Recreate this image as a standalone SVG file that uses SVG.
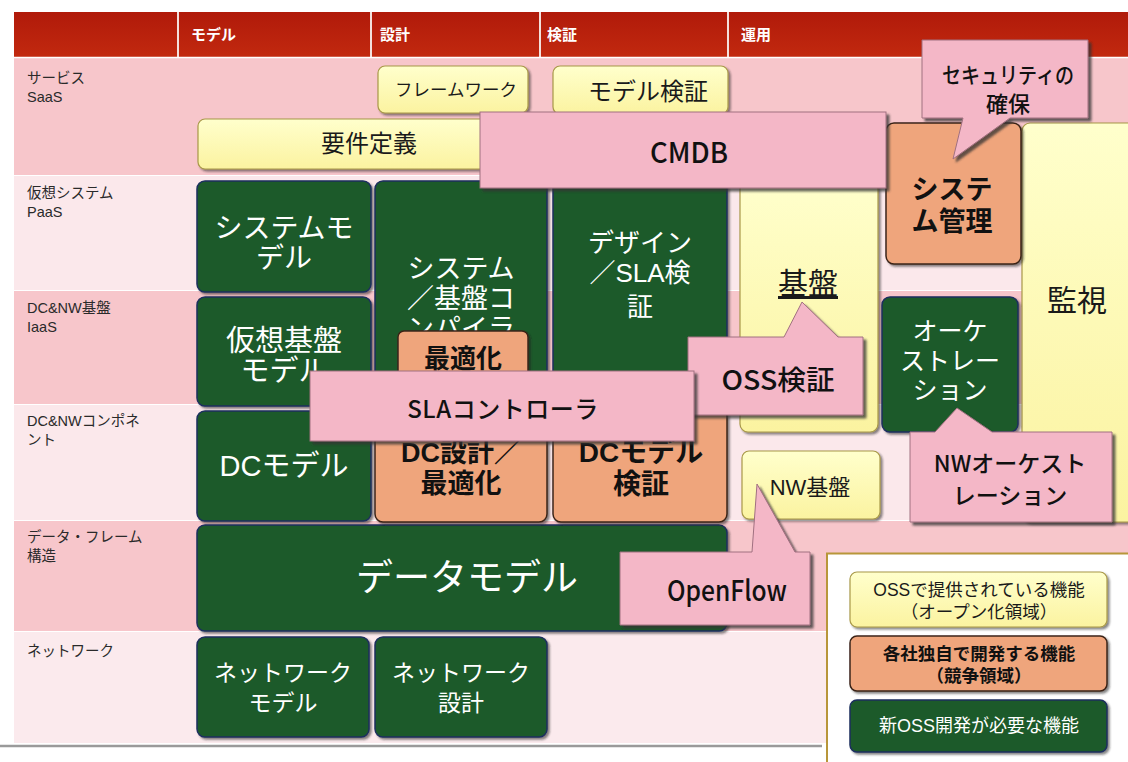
<svg xmlns="http://www.w3.org/2000/svg" width="1128" height="762" viewBox="0 0 1128 762">
<defs>
<linearGradient id="ghdr" x1="0" y1="0" x2="0" y2="1"><stop offset="0" stop-color="#b01a0a"/><stop offset="1" stop-color="#c2290f"/></linearGradient>
<linearGradient id="gy" x1="0" y1="0" x2="0" y2="1"><stop offset="0" stop-color="#ffffcc"/><stop offset="1" stop-color="#fbf3a0"/></linearGradient>
<filter id="sh" x="-10%" y="-10%" width="130%" height="130%"><feDropShadow dx="2" dy="2" stdDeviation="1" flood-color="#222" flood-opacity="0.55"/></filter>
<filter id="shc" x="-10%" y="-10%" width="130%" height="140%"><feDropShadow dx="3" dy="3" stdDeviation="0.8" flood-color="#333" flood-opacity="0.75"/></filter>
<style>
.lbl{font-family:"Liberation Sans","Noto Sans CJK JP",sans-serif;font-size:14.5px;fill:#2a2a2a}
.hdr{font-family:"Noto Sans CJK JP",sans-serif;font-size:15px;font-weight:bold;fill:#fff}
.y{fill:url(#gy);stroke:#a89848;stroke-width:1.2;filter:url(#sh)}
.g{fill:#1c5a2c;stroke:#1b2f5e;stroke-width:1.5;filter:url(#sh)}
.o{fill:#efa57c;stroke:#3b2417;stroke-width:1.5;filter:url(#sh)}
.c{fill:#f4b7c7;stroke:#a07080;stroke-width:1;filter:url(#shc)}
.tw{font-family:"Liberation Sans","Noto Sans CJK JP",sans-serif;fill:#fff;text-anchor:middle}
.tk{font-family:"Liberation Sans","Noto Sans CJK JP",sans-serif;fill:#1a1a1a;text-anchor:middle}
.tb{font-family:"Liberation Sans","Noto Sans CJK JP",sans-serif;fill:#111;text-anchor:middle;font-weight:bold}
.tc{font-family:"Noto Sans CJK JP",sans-serif;fill:#111;text-anchor:middle;font-weight:500}
</style>
</defs>

<!-- background rows -->
<g id="grid">
<rect x="0" y="0" width="1128" height="762" fill="#ffffff"/>
<rect x="14" y="57" width="1114" height="118" fill="#f7c6cb"/>
<rect x="14" y="176" width="1114" height="114" fill="#fbe8eb"/>
<rect x="14" y="291" width="1114" height="113" fill="#f7c6cb"/>
<rect x="14" y="405" width="1114" height="115" fill="#fbe8eb"/>
<rect x="14" y="521" width="1114" height="110" fill="#f7c6cb"/>
<rect x="14" y="632" width="1114" height="111" fill="#fbeaed"/>
<rect x="14" y="12" width="1114" height="45" fill="url(#ghdr)"/>
<g stroke="#f3e0dc" stroke-width="2">
<line x1="178" y1="12" x2="178" y2="57"/>
<line x1="371" y1="12" x2="371" y2="57"/>
<line x1="540" y1="12" x2="540" y2="57"/>
<line x1="728" y1="12" x2="728" y2="57"/>
</g>
<line x1="14" y1="57.5" x2="1128" y2="57.5" stroke="#fff" stroke-width="1.5"/>
<line x1="0" y1="746" x2="822" y2="746" stroke="#9a9a9a" stroke-width="2.5"/>
<rect x="827" y="553" width="301" height="209" fill="#ffffff"/>
<path d="M827,762 V553.5 H1128" fill="none" stroke="#b8963a" stroke-width="2"/>
<text class="hdr" x="191" y="40">モデル</text>
<text class="hdr" x="380" y="40">設計</text>
<text class="hdr" x="547" y="40">検証</text>
<text class="hdr" x="741" y="40">運用</text>
<text class="lbl" x="27" y="83">サービス</text>
<text class="lbl" x="27" y="102">SaaS</text>
<text class="lbl" x="27" y="198">仮想システム</text>
<text class="lbl" x="27" y="217">PaaS</text>
<text class="lbl" x="27" y="313">DC&amp;NW基盤</text>
<text class="lbl" x="27" y="332">IaaS</text>
<text class="lbl" x="27" y="426">DC&amp;NWコンポネ</text>
<text class="lbl" x="27" y="445">ント</text>
<text class="lbl" x="27" y="542">データ・フレーム</text>
<text class="lbl" x="27" y="561">構造</text>
<text class="lbl" x="27" y="656">ネットワーク</text>
</g>

<!-- yellow nodes -->
<g id="framework"><rect class="y" x="378" y="66" width="150" height="47" rx="7"/><text class="tk" x="456" y="96" font-size="17.5">フレームワーク</text></g>
<g id="model-verify"><rect class="y" x="553" y="66" width="175" height="48" rx="7"/><text class="tk" x="648" y="100" font-size="24">モデル検証</text></g>
<g id="requirements"><rect class="y" x="198" y="119" width="340" height="50" rx="7"/><text class="tk" x="369" y="152" font-size="24">要件定義</text></g>
<g id="kiban"><rect class="y" x="740" y="181" width="138" height="251" rx="8"/><text class="tk" x="808" y="294" font-size="30" text-decoration="underline">基盤</text></g>
<g id="kanshi"><rect class="y" x="1022" y="123" width="120" height="399" rx="8"/><text class="tk" x="1077" y="311" font-size="30">監視</text></g>
<g id="nw-kiban"><rect class="y" x="742" y="451" width="138" height="68" rx="7"/><text class="tk" x="810" y="495" font-size="22">NW基盤</text></g>

<!-- green nodes -->
<g id="system-model"><rect class="g" x="197" y="181" width="174" height="111" rx="8"/><text class="tw" x="284" y="238" font-size="28">システムモ</text><text class="tw" x="284" y="268" font-size="28">デル</text></g>
<g id="virtual-model"><rect class="g" x="197" y="297" width="174" height="109" rx="8"/><text class="tw" x="284" y="351" font-size="29">仮想基盤</text><text class="tw" x="284" y="381" font-size="29">モデル</text></g>
<g id="dc-model"><rect class="g" x="197" y="411" width="174" height="110" rx="8"/><text class="tw" x="284" y="476" font-size="29">DCモデル</text></g>
<g id="compiler"><rect class="g" x="375" y="181" width="172" height="222" rx="8"/><text class="tw" x="461" y="278" font-size="27">システム</text><text class="tw" x="461" y="308" font-size="27">／基盤コ</text><text class="tw" x="461" y="338" font-size="27">ンパイラ</text></g>
<g id="design-sla"><rect class="g" x="553" y="181" width="174" height="222" rx="8"/><text class="tw" x="640" y="252" font-size="26">デザイン</text><text class="tw" x="640" y="282" font-size="26">／SLA検</text><text class="tw" x="640" y="316" font-size="26">証</text></g>
<g id="data-model"><rect class="g" x="197" y="525" width="530" height="106" rx="8"/><text class="tw" x="467" y="591" font-size="37">データモデル</text></g>
<g id="orchestration"><rect class="g" x="882" y="297" width="136" height="135" rx="8"/><text class="tw" x="950" y="340" font-size="25">オーケ</text><text class="tw" x="950" y="370" font-size="25">ストレー</text><text class="tw" x="950" y="399" font-size="25">ション</text></g>
<g id="nw-model"><rect class="g" x="197" y="637" width="172" height="100" rx="8"/><text class="tw" x="283" y="681" font-size="23">ネットワーク</text><text class="tw" x="283" y="711" font-size="23">モデル</text></g>
<g id="nw-design"><rect class="g" x="375" y="637" width="172" height="100" rx="8"/><text class="tw" x="461" y="681" font-size="23">ネットワーク</text><text class="tw" x="461" y="711" font-size="23">設計</text></g>

<!-- orange nodes -->
<g id="system-mgmt"><rect class="o" x="886" y="123" width="135" height="141" rx="8"/><text class="tb" x="952" y="199" font-size="27">システ</text><text class="tb" x="952" y="231" font-size="27">ム管理</text></g>
<g id="optimize"><rect class="o" x="398" y="331" width="130" height="52" rx="6"/><text class="tb" x="463" y="368" font-size="26">最適化</text></g>
<g id="dc-design"><rect class="o" x="375" y="408" width="172" height="114" rx="8"/><text class="tb" x="461" y="462" font-size="27">DC設計／</text><text class="tb" x="461" y="493" font-size="27">最適化</text></g>
<g id="dc-model-verify"><rect class="o" x="553" y="408" width="174" height="114" rx="8"/><text class="tb" x="641" y="462" font-size="28">DCモデル</text><text class="tb" x="641" y="494" font-size="28">検証</text></g>

<!-- callouts -->
<g id="connectors">
<g id="cmdb"><rect class="c" x="480" y="112" width="406" height="76"/><text class="tc" x="689" y="163" font-size="28" textLength="78" lengthAdjust="spacingAndGlyphs">CMDB</text></g>
<g id="security"><path class="c" d="M922,40 H1088 V118 H1010 L953,159 L963,118 H922 Z"/><text class="tc" x="1008" y="83" font-size="22" textLength="132" lengthAdjust="spacingAndGlyphs">セキュリティの</text><text class="tc" x="1008" y="112" font-size="22">確保</text></g>
<g id="oss-verify"><path class="c" d="M688,337 H784 L802,302 L838,337 H863 V415 H688 Z"/><text class="tc" x="778" y="390" font-size="27" textLength="113" lengthAdjust="spacingAndGlyphs">OSS検証</text></g>
<g id="sla-controller"><rect class="c" x="310" y="371" width="384" height="70"/><text class="tc" x="503" y="418" font-size="24" letter-spacing="0.5">SLAコントローラ</text></g>
<g id="nw-orch"><path class="c" d="M910,432 H935 L957,408 L992,432 H1112 V522 H910 Z"/><text class="tc" x="1010" y="472" font-size="23">NWオーケスト</text><text class="tc" x="1010" y="504" font-size="23">レーション</text></g>
<g id="openflow"><path class="c" d="M620,552 H752 L757,484 L795,552 H810 V625 H620 Z"/><text class="tc" x="727" y="601" font-size="28" textLength="120" lengthAdjust="spacingAndGlyphs">OpenFlow</text></g>
</g>

<!-- legend -->
<g id="legend-oss"><rect class="y" x="850" y="572" width="257" height="55" rx="7"/><text class="tk" x="979" y="596" font-size="17.5">OSSで提供されている機能</text><text class="tk" x="979" y="618" font-size="17.5">（オープン化領域）</text></g>
<g id="legend-own"><rect class="o" x="850" y="636" width="257" height="55" rx="7"/><text class="tb" x="979" y="660" font-size="17.5">各社独自で開発する機能</text><text class="tb" x="979" y="682" font-size="17.5">（競争領域）</text></g>
<g id="legend-new"><rect class="g" x="850" y="700" width="257" height="52" rx="7"/><text class="tw" x="979" y="732" font-size="18">新OSS開発が必要な機能</text></g>
</svg>
